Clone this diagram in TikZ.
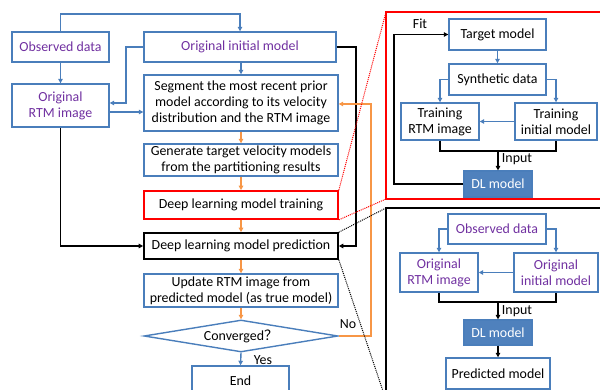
\documentclass[tikz,border=0pt]{standalone}
\usepackage{fontspec}
\setmainfont{Carlito}
\newfontfamily\cjk{Noto Sans CJK SC}
\usetikzlibrary{arrows.meta,shapes.geometric,calc}
\definecolor{bblue}{RGB}{74,126,187}
\definecolor{dlfill}{RGB}{79,129,189}
\definecolor{ppurple}{RGB}{112,48,160}
\definecolor{oorange}{RGB}{247,150,70}
\begin{document}
\begin{tikzpicture}[x=1pt,y=-1pt,
  font=\fontsize{13.9}{16}\selectfont,
  tip/.style={-{Triangle[length=4.5pt,width=4.5pt]}},
  bbox/.style={draw=bblue,line width=1.4pt,rectangle,inner sep=1pt,align=center},
  pbox/.style={bbox,text=ppurple},
  kbox/.style={draw=black,line width=1.6pt,rectangle,inner sep=1pt,align=center},
  rbox/.style={draw=red,line width=1.6pt,rectangle,inner sep=1pt,align=center},
  dlbox/.style={draw=bblue,fill=dlfill,line width=1.2pt,text=white,rectangle,inner sep=1pt,align=center},
  bline/.style={draw=bblue,line width=1.4pt},
  kline/.style={draw=black,line width=1.6pt},
  oline/.style={draw=oorange,line width=1.4pt},
  lbl/.style={inner sep=0pt}
]
\useasboundingbox (0,0) rectangle (600,390);
\clip (0,0) rectangle (600,390);

% left flow chart
\node[pbox,minimum width=97pt,minimum height=30pt] (obs) at (60.5,47) {Observed data};
\node[pbox,minimum width=192pt,minimum height=30pt] (oim) at (240,47) {Original initial model};
\node[pbox,minimum width=97pt,minimum height=43pt] (rtm) at (60.5,105.5) {Original\\RTM image};
\node[bbox,minimum width=194pt,minimum height=56pt] (seg) at (241,103) {Segment the most recent prior\\model according to its velocity\\distribution and the RTM image};
\node[bbox,minimum width=194pt,minimum height=32pt] (gen) at (241,160) {Generate target velocity models\\from the partitioning results};
\node[rbox,minimum width=194pt,minimum height=28pt] (train) at (241,205) {Deep learning model training};
\node[kbox,minimum width=194pt,minimum height=26pt] (pred) at (241,246) {Deep learning model prediction};
\node[bbox,minimum width=194pt,minimum height=33pt] (upd) at (241,290.5) {Update RTM image from\\predicted model (as true model)};
\node[draw=bblue,line width=1.4pt,diamond,aspect=6,inner sep=0pt,minimum width=194pt,minimum height=32pt] (conv) at (241,336) {Converged{\cjk ？}};
\node[bbox,minimum width=97pt,minimum height=30pt] (end) at (240.5,381) {End};

\coordinate (top) at (60.5,14);
\draw[bline,tip] (obs.north) -- (top) -| (oim.north);
\draw[bline,tip] (obs.south) -- (rtm.north);
\draw[bline,tip] (oim.west) -| (126,103) -- ([yshift=2.5pt]rtm.east);
\draw[bline,tip] ([yshift=-6.5pt]rtm.east) -- ([yshift=-6.5pt]rtm.east -| seg.west);
\draw[bline,tip] (oim.south -| seg.north) -- (seg.north);
\draw[kline,tip] (rtm.south) |- (pred.west);
\draw[kline,tip] (oim.east) -| (356,246) -- (pred.east);
\draw[oline,tip] (seg.south) -- (gen.north);
\draw[oline,tip] (gen.south) -- (train.north);
\draw[oline,tip] (train.south) -- (pred.north);
\draw[oline,tip] (pred.south) -- (upd.north);
\draw[oline,tip] (upd.south) -- (conv.north);
\coordinate (noc) at (371,336);
\draw[oline,tip] (conv.east) -- (noc) |- ([yshift=-1pt]seg.east);
\node[lbl] (no) at (348,324) {No};
\draw[bline,tip] (conv.south) -- (end.north);
\node[lbl] (yes) at (263,360) {Yes};

% training panel
\draw[red,line width=1.6pt] (386,12) rectangle (620,199);
\node[bbox,minimum width=97pt,minimum height=31pt] (tgt) at (497.5,34.5) {Target model};
\node[bbox,minimum width=97pt,minimum height=31pt] (syn) at (497.5,79.5) {Synthetic data};
\node[bbox,minimum width=78pt,minimum height=37pt] (trtm) at (440,121.5) {Training\\RTM image};
\node[bbox,minimum width=82pt,minimum height=37pt] (tinit) at (556,121.5) {Training\\initial model};
\node[dlbox,minimum width=68pt,minimum height=26pt] (dl1) at (498,184) {DL model};
\draw[bline,tip] (tgt.south) -- (syn.north);
\draw[bline,tip] (syn.west) -| (trtm.north);
\draw[bline,tip] (syn.east) -| (tinit.north);
\draw[bline,tip] (tinit.west) -- (trtm.east);
\coordinate (j1) at (498,151);
\draw[kline] (trtm.south) |- (j1) -| (tinit.south);
\draw[kline,tip] (j1) -- (dl1.north);
\node[lbl] (in1) at (517,159) {Input};
\coordinate (fitc) at (394,34.5);
\draw[kline,tip] (dl1.west) -| (fitc) -- (tgt.west);
\node[lbl] (fit) at (420,24) {Fit};

% prediction panel
\draw[black,line width=1.6pt] (386,208) rectangle (620,400);
\node[pbox,minimum width=98pt,minimum height=30pt] (obs2) at (497,229) {Observed data};
\node[pbox,minimum width=78pt,minimum height=39pt] (ortm2) at (439,272.5) {Original\\RTM image};
\node[pbox,minimum width=84pt,minimum height=39pt] (oinit2) at (556,272.5) {Original\\initial model};
\node[dlbox,minimum width=68pt,minimum height=25pt] (dl2) at (498,332.5) {DL model};
\node[bbox,minimum width=104pt,minimum height=31pt] (predm) at (498,373.5) {Predicted model};
\draw[bline,tip] (obs2.west) -| (ortm2.north);
\draw[bline,tip] (obs2.east) -| (oinit2.north);
\draw[bline,tip] (oinit2.west) -- (ortm2.east);
\coordinate (j2) at (498,302);
\draw[kline] (ortm2.south) |- (j2) -| (oinit2.south);
\draw[kline,tip] (j2) -- (dl2.north);
\node[lbl] (in2) at (517,311) {Input};
\draw[kline,tip] (dl2.south) -- (predm.north);

% zoom lines
\draw[red,densely dotted,line width=1pt] (train.north east) -- (386,12);
\draw[red,densely dotted,line width=1pt] (train.south east) -- (386,199);
\draw[black,densely dotted,line width=1pt] (pred.north east) -- (386,208);
\draw[black,densely dotted,line width=1pt] (pred.south east) -- (386,400);
\end{tikzpicture}
\end{document}
